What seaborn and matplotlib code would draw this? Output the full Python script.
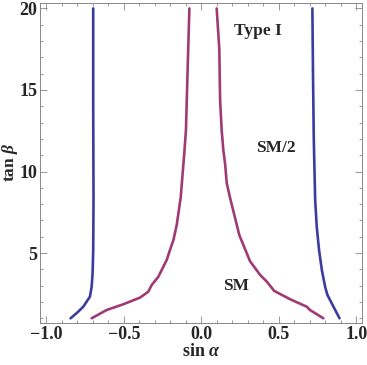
import seaborn as sns
import matplotlib.pyplot as plt
import pandas as pd
from matplotlib.ticker import MultipleLocator

# curves (sin alpha, tan beta)
blue_left_x = [-0.843, -0.80, -0.761, -0.718, -0.707, -0.701, -0.697, -0.695, -0.697, -0.697]
blue_left_y = [1.0, 1.35, 1.71, 2.33, 2.94, 3.76, 5.19, 8.26, 14.0, 20.0]

blue_right_x = [0.891, 0.852, 0.813, 0.798, 0.777, 0.759, 0.744, 0.734, 0.725, 0.720, 0.716]
blue_right_y = [1.0, 1.71, 2.43, 2.94, 3.96, 5.19, 6.62, 8.26, 12.0, 16.0, 20.0]

purple_left_x = [-0.707, -0.61, -0.503, -0.395, -0.342, -0.32, -0.277, -0.223, -0.202,
                 -0.18, -0.159, -0.133, -0.11, -0.099, -0.094, -0.086, -0.077]
purple_left_y = [1.0, 1.51, 1.86, 2.27, 2.63, 3.04, 3.55, 4.58, 5.19,
                 5.8, 6.7, 8.4, 11.1, 12.55, 14.3, 17.0, 20.0]

purple_right_x = [0.787, 0.70, 0.68, 0.572, 0.47, 0.422, 0.379, 0.314, 0.245,
                  0.185, 0.164, 0.153, 0.142, 0.131, 0.121, 0.116, 0.099]
purple_right_y = [1.0, 1.51, 1.71, 2.17, 2.68, 3.25, 3.66, 4.5, 6.1,
                  8.4, 9.28, 10.5, 11.3, 12.55, 14.4, 17.5, 20.0]

x_major = [-1.0, -0.5, 0.0, 0.5, 1.0]
y_major = [5, 10, 15, 20]

blue = "#3c3ca0"
purple = "#a03a74"

frames = []
for name, xs, ys in [("blue_left", blue_left_x, blue_left_y),
                     ("blue_right", blue_right_x, blue_right_y),
                     ("purple_left", purple_left_x, purple_left_y),
                     ("purple_right", purple_right_x, purple_right_y)]:
    frames.append(pd.DataFrame({"sin_a": xs, "tan_b": ys, "curve": name}))
df = pd.concat(frames, ignore_index=True)

sns.set_style("ticks")
plt.rcParams['font.family'] = ['Liberation Serif', 'DejaVu Serif']
plt.rcParams['font.weight'] = 'bold'
plt.rcParams['mathtext.fontset'] = 'custom'
plt.rcParams['mathtext.it'] = 'Liberation Serif:italic:bold'
plt.rcParams['mathtext.rm'] = 'Liberation Serif:bold'

fig = plt.figure(figsize=(3.67, 3.65), dpi=100)
ax = fig.add_axes([0.109, 0.115, 0.877, 0.878])

pal = {"blue_left": blue, "blue_right": blue, "purple_left": purple, "purple_right": purple}
sns.lineplot(data=df, x="sin_a", y="tan_b", hue="curve", palette=pal,
             sort=False, estimator=None, lw=1.9, legend=False, ax=ax)

ax.set_xlim(-1.04, 1.035)
ax.set_ylim(0.71, 20.36)
ax.set_xticks(x_major)
ax.set_xticklabels(["\u22121.0", "\u22120.5", "0.0", "0.5", "1.0"])
ax.set_yticks(y_major)
ax.xaxis.set_minor_locator(MultipleLocator(0.1))
ax.yaxis.set_minor_locator(MultipleLocator(1))
ax.tick_params(which="both", direction="in", top=True, right=True, color="#888888",
               width=0.6, labelsize=13, pad=2)
ax.tick_params(which="major", length=5)
ax.tick_params(which="minor", length=2.5)
for s in ax.spines.values():
    s.set_color("#888888")
    s.set_linewidth(0.7)

ax.set_xlabel("sin $\\alpha$", fontsize=13, fontweight="bold", labelpad=0)
ax.set_ylabel("tan $\\beta$", fontsize=12.5, fontweight="bold")
ax.yaxis.set_label_coords(-0.062, 0.5)

ax.text(0.366, 18.64, "Type I", fontsize=12.5, fontweight="bold", ha="center", va="center")
ax.text(0.48, 11.45, "SM/2", fontsize=12.5, fontweight="bold", ha="center", va="center")
ax.text(0.222, 3.0, "SM", fontsize=12.5, fontweight="bold", ha="center", va="center")

plt.savefig("out.png", dpi=100)
